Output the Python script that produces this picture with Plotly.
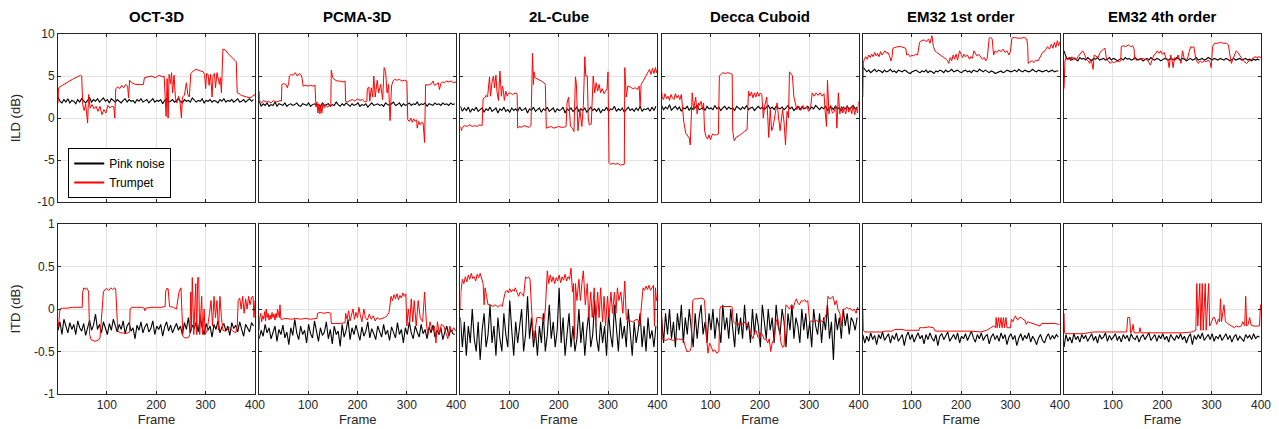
import numpy as np
import plotly.graph_objects as go

titles = ["OCT-3D", "PCMA-3D", "2L-Cube", "Decca Cuboid", "EM32 1st order", "EM32 4th order"]
x_ticks = [100, 200, 300, 400]
ild_ticks = [-10, -5, 0, 5, 10]
itd_ticks = [-1, -0.5, 0, 0.5, 1]

# pink noise, sampled every 4 frames
frames_black = np.arange(1, 401, 4)

ild_pink_oct = [2.5,2.0,1.8,2.2,1.9,2.3,1.8,2.1,2.0,1.7,2.2,1.9,2.3,2.0,1.8,2.1,2.4,1.9,2.2,2.0,
                2.3,1.9,2.1,2.4,2.0,2.2,1.8,2.3,2.1,1.9,2.2,2.0,1.8,2.1,2.3,1.9,2.2,2.0,2.1,1.8,
                2.2,2.0,2.3,1.9,2.1,2.2,1.8,2.0,2.3,1.9,2.1,2.0,2.2,1.7,2.1,2.3,1.9,2.0,2.2,1.9,
                2.1,2.3,2.0,1.8,2.2,2.0,2.1,1.9,2.4,2.2,1.9,2.1,2.0,2.3,1.8,2.1,2.0,2.2,1.9,2.1,
                2.0,1.8,2.2,2.0,2.3,1.9,2.1,2.0,2.2,1.9,2.1,2.3,1.9,2.0,2.2,1.9,2.1,2.3,2.0,2.2]
ild_pink_pcma = [2.0,1.4,1.7,1.5,1.8,1.4,1.6,1.5,1.9,1.4,1.7,1.6,1.5,1.8,1.4,1.6,1.7,1.5,1.6,1.8,
                 1.5,1.4,1.7,1.6,1.5,1.8,1.4,1.6,1.7,1.5,1.6,1.4,1.8,1.5,1.6,1.7,1.4,1.6,1.5,1.9,
                 1.6,1.4,1.7,1.5,1.8,1.6,1.4,1.7,1.5,1.6,1.8,1.4,1.6,1.5,1.7,1.3,1.6,1.8,1.5,1.6,
                 1.7,1.5,1.6,1.4,1.8,1.6,1.5,1.7,1.9,1.5,1.6,1.8,1.4,1.7,1.5,1.6,1.8,1.5,1.7,1.6,
                 1.9,1.5,1.7,1.6,1.8,1.4,1.7,1.6,1.5,1.8,1.6,1.7,1.5,1.8,1.6,1.7,1.5,1.8,1.6,1.7]
ild_pink_2l = [1.4,0.8,1.2,0.9,1.3,0.7,1.1,0.9,1.3,0.8,1.0,1.2,0.7,1.1,0.9,1.3,0.8,1.0,1.2,0.6,
               1.1,0.9,1.3,0.8,1.0,0.7,1.2,0.9,1.1,0.8,1.3,0.9,1.0,1.2,0.6,1.1,0.9,1.3,0.8,1.0,
               1.2,0.7,1.1,0.9,1.3,0.8,1.0,1.2,0.7,1.1,0.9,1.0,1.3,0.6,1.1,0.9,1.2,0.8,1.0,1.3,
               0.8,1.1,0.9,1.2,0.7,1.0,1.3,0.9,1.1,0.8,1.2,0.6,1.0,0.9,1.3,0.8,1.1,1.0,1.4,0.8,
               1.1,0.9,1.2,0.7,1.0,1.3,0.9,1.1,0.8,1.2,0.9,1.4,0.8,1.1,1.0,1.2,0.8,1.3,0.9,1.4]
ild_pink_decca = [1.5,1.0,1.3,1.1,1.6,0.9,1.2,1.4,1.0,1.3,0.8,1.2,1.1,1.4,0.9,1.3,1.0,1.2,1.5,1.0,
                  1.1,1.3,0.9,1.4,1.1,1.2,1.0,1.5,1.1,1.3,0.9,1.2,1.4,1.0,1.3,1.1,1.2,0.9,1.4,1.2,
                  1.0,1.3,1.1,1.5,1.0,1.2,1.3,0.9,1.2,1.4,1.1,1.3,1.0,1.2,1.5,1.1,1.3,1.0,1.4,1.2,
                  1.1,1.3,1.0,1.2,1.5,1.1,1.3,0.9,1.2,1.4,1.0,1.3,1.1,1.2,1.4,1.0,1.3,1.1,1.5,1.2,
                  1.0,1.3,1.1,1.4,0.9,1.2,1.3,1.0,1.4,1.1,1.2,0.9,1.3,1.1,1.4,1.0,1.2,1.5,1.1,1.3]
ild_pink_em1 = [6.1,5.8,5.5,5.7,5.4,5.6,5.8,5.5,5.7,5.6,5.4,5.7,5.5,5.6,5.8,5.5,5.6,5.4,5.7,5.6,
                5.5,5.7,5.6,5.4,5.3,5.5,5.6,5.7,5.5,5.4,5.6,5.5,5.7,5.4,5.6,5.5,5.3,5.6,5.5,5.7,
                5.6,5.4,5.7,5.5,5.6,5.8,5.5,5.6,5.7,5.5,5.4,5.6,5.7,5.5,5.6,5.4,5.7,5.6,5.5,5.8,
                5.6,5.5,5.7,5.5,5.4,5.6,5.5,5.3,5.4,5.5,5.6,5.4,5.5,5.7,5.6,5.5,5.6,5.7,5.5,5.8,
                5.6,5.5,5.7,5.6,5.5,5.6,5.8,5.6,5.5,5.7,5.6,5.5,5.6,5.7,5.5,5.6,5.7,5.5,5.6,5.6]
ild_pink_em4 = [8.0,7.3,7.0,7.2,6.9,7.1,7.0,6.8,7.2,7.0,7.1,6.9,7.2,7.0,6.8,7.1,7.0,7.2,6.9,7.0,
                7.1,6.9,7.0,7.2,6.9,7.1,7.0,6.8,7.0,7.1,6.9,7.2,7.0,7.1,6.9,7.0,7.2,6.9,7.0,7.1,
                6.8,7.0,7.1,6.9,7.2,7.0,6.9,7.1,7.0,6.8,7.0,7.1,7.0,6.9,7.1,7.0,6.9,7.2,7.0,6.9,
                7.1,7.0,6.8,7.0,7.1,6.9,7.0,7.2,6.9,7.0,7.1,6.9,7.0,7.2,7.0,6.9,7.1,7.0,6.9,7.1,
                7.0,6.9,7.1,7.0,6.8,7.0,7.1,6.9,7.0,7.1,6.9,7.0,7.1,6.9,7.0,6.8,7.0,6.9,7.0,6.9]

itd_pink_oct = [-0.25,-0.15,-0.30,-0.12,-0.20,-0.28,-0.16,-0.24,-0.18,-0.30,-0.14,-0.22,-0.26,-0.17,-0.31,-0.20,-0.13,-0.25,-0.19,-0.06,
                -0.24,-0.18,-0.28,-0.15,-0.22,-0.30,-0.17,-0.25,-0.12,-0.21,-0.27,-0.18,-0.24,-0.14,-0.29,-0.20,-0.16,-0.26,-0.22,-0.35,
                -0.19,-0.25,-0.15,-0.28,-0.21,-0.17,-0.27,-0.23,-0.14,-0.30,-0.20,-0.24,-0.18,-0.32,-0.21,-0.15,-0.26,-0.19,-0.28,-0.22,
                -0.17,-0.25,-0.20,-0.30,-0.16,-0.24,-0.10,-0.28,-0.19,-0.23,-0.15,-0.27,-0.08,-0.22,-0.30,-0.17,-0.25,-0.20,-0.33,-0.18,
                -0.24,-0.14,-0.28,-0.21,-0.17,-0.26,-0.20,-0.31,-0.16,-0.23,-0.19,-0.27,-0.15,-0.24,-0.32,-0.18,-0.22,-0.27,-0.16,-0.20]
itd_pink_pcma = [-0.35,-0.25,-0.32,-0.18,-0.28,-0.22,-0.35,-0.26,-0.20,-0.38,-0.24,-0.30,-0.19,-0.34,-0.27,-0.42,-0.22,-0.31,-0.12,-0.28,
                 -0.36,-0.20,-0.30,-0.25,-0.40,-0.18,-0.29,-0.34,-0.14,-0.26,-0.38,-0.22,-0.31,-0.27,-0.15,-0.35,-0.24,-0.41,-0.20,-0.30,
                 -0.26,-0.44,-0.18,-0.33,-0.25,-0.12,-0.36,-0.22,-0.30,-0.19,-0.28,-0.37,-0.21,-0.32,-0.26,-0.15,-0.34,-0.23,-0.29,-0.36,
                 -0.20,-0.27,-0.33,-0.18,-0.30,-0.25,-0.37,-0.21,-0.28,-0.34,-0.16,-0.30,-0.24,-0.40,-0.22,-0.30,-0.15,-0.28,-0.35,-0.20,
                 -0.27,-0.33,-0.18,-0.29,-0.24,-0.35,-0.21,-0.28,-0.19,-0.33,-0.25,-0.30,-0.22,-0.36,-0.27,-0.20,-0.32,-0.24,-0.29,-0.30]
itd_pink_2l = [-0.10,-0.45,-0.15,-0.55,-0.20,-0.40,0.00,-0.35,-0.50,-0.15,-0.60,-0.25,-0.05,-0.45,-0.30,0.05,-0.40,-0.20,-0.55,-0.10,
               -0.35,-0.50,-0.05,-0.30,-0.45,0.10,-0.25,-0.55,-0.15,-0.40,-0.20,0.00,-0.50,-0.30,0.15,-0.35,-0.10,-0.45,-0.25,-0.55,
               -0.20,-0.40,-0.05,-0.50,-0.30,0.05,-0.35,-0.15,-0.45,-0.25,0.25,-0.40,-0.10,-0.55,-0.30,-0.05,-0.45,-0.20,-0.50,-0.35,
               0.00,-0.40,-0.15,-0.55,-0.25,-0.05,-0.45,-0.30,0.10,-0.35,-0.50,-0.15,-0.40,-0.20,-0.55,-0.05,-0.30,-0.45,0.05,-0.25,
               -0.50,-0.10,-0.35,-0.20,-0.45,0.00,-0.30,-0.55,-0.15,-0.40,-0.25,-0.05,-0.45,-0.20,-0.50,-0.10,-0.35,-0.25,-0.45,-0.20]
itd_pink_decca = [-0.10,-0.40,-0.05,-0.30,0.00,-0.35,-0.15,-0.45,-0.05,-0.25,0.05,-0.40,-0.10,-0.30,0.00,-0.20,-0.45,-0.05,-0.35,-0.10,
                  0.05,-0.30,-0.15,-0.40,-0.05,-0.25,0.00,-0.35,-0.10,-0.20,-0.40,0.05,-0.25,-0.10,-0.35,0.00,-0.20,-0.45,-0.05,-0.30,
                  -0.10,-0.35,0.05,-0.25,-0.15,-0.40,0.00,-0.30,-0.05,-0.20,-0.45,0.05,-0.15,-0.35,0.00,-0.25,-0.10,-0.40,0.05,-0.20,
                  -0.30,0.00,-0.15,-0.45,-0.05,-0.25,0.05,-0.35,-0.10,-0.20,-0.40,0.00,-0.25,-0.05,-0.35,-0.15,-0.45,0.00,-0.20,-0.30,
                  -0.05,-0.40,-0.10,-0.25,0.05,-0.35,-0.15,-0.60,-0.05,-0.25,-0.10,-0.35,0.00,-0.20,-0.05,-0.30,-0.10,-0.15,-0.25,-0.10]
itd_pink_em1 = [-0.30,-0.40,-0.32,-0.38,-0.28,-0.36,-0.31,-0.42,-0.30,-0.35,-0.27,-0.37,-0.33,-0.29,-0.40,-0.31,-0.36,-0.28,-0.38,-0.33,
                -0.30,-0.43,-0.32,-0.27,-0.36,-0.30,-0.39,-0.33,-0.28,-0.35,-0.31,-0.41,-0.30,-0.36,-0.28,-0.34,-0.38,-0.30,-0.43,-0.32,
                -0.29,-0.36,-0.31,-0.27,-0.38,-0.33,-0.30,-0.36,-0.28,-0.40,-0.32,-0.35,-0.29,-0.37,-0.31,-0.26,-0.34,-0.39,-0.30,-0.35,
                -0.28,-0.37,-0.32,-0.30,-0.41,-0.33,-0.29,-0.36,-0.31,-0.38,-0.28,-0.35,-0.30,-0.42,-0.33,-0.29,-0.36,-0.31,-0.43,-0.34,
                -0.29,-0.37,-0.31,-0.35,-0.28,-0.39,-0.32,-0.36,-0.42,-0.34,-0.30,-0.37,-0.40,-0.33,-0.29,-0.36,-0.31,-0.35,-0.30,-0.33]
itd_pink_em4 = [-0.45,-0.30,-0.38,-0.33,-0.40,-0.29,-0.36,-0.32,-0.39,-0.30,-0.35,-0.31,-0.38,-0.34,-0.29,-0.37,-0.32,-0.40,-0.30,-0.35,
                -0.33,-0.28,-0.38,-0.31,-0.36,-0.33,-0.29,-0.37,-0.32,-0.39,-0.30,-0.35,-0.31,-0.38,-0.29,-0.34,-0.36,-0.31,-0.39,-0.33,
                -0.30,-0.36,-0.32,-0.28,-0.37,-0.33,-0.30,-0.38,-0.31,-0.35,-0.29,-0.36,-0.32,-0.39,-0.30,-0.34,-0.37,-0.31,-0.35,-0.29,
                -0.36,-0.32,-0.40,-0.33,-0.29,-0.42,-0.31,-0.36,-0.30,-0.35,-0.28,-0.37,-0.33,-0.30,-0.36,-0.29,-0.38,-0.32,-0.35,-0.30,
                -0.37,-0.33,-0.29,-0.36,-0.31,-0.39,-0.33,-0.30,-0.37,-0.32,-0.35,-0.38,-0.30,-0.34,-0.31,-0.36,-0.29,-0.35,-0.32,-0.33]

# trumpet: frame / value pairs read at the step changes
ild_tr_oct_f = [1,2,10,20,30,40,47,49,51,54,57,61,63,66,70,74,78,82,86,90,94,98,102,106,110,114,116,118,122,126,130,134,138,142,144,146,150,158,166,174,176,182,190,198,206,212,216,218,220,222,224,226,229,231,233,236,239,242,245,248,251,253,257,261,264,267,270,275,280,285,290,295,298,300,302,305,307,310,313,315,318,320,323,326,328,330,332,335,340,345,350,355,360,362,364,368,372,378,384,390,395,400]
ild_tr_oct_v = [1.8,3.6,3.9,4.3,4.6,4.9,5.1,5.0,1.6,0.9,1.7,-0.6,2.8,1.2,1.6,1.1,1.4,0.8,1.4,0.4,1.0,0.6,1.5,1.2,1.4,1.3,0.0,3.5,3.7,3.5,3.9,3.6,4.0,3.8,2.4,4.5,4.2,4.0,4.0,4.0,4.8,4.9,5.0,4.8,5.1,4.9,5.0,2.6,0.2,4.7,0.0,5.2,4.1,5.4,3.0,5.1,2.3,1.8,2.6,2.0,0.0,2.5,2.7,4.2,2.8,2.5,5.3,5.6,5.8,5.7,5.6,5.5,5.2,3.5,5.3,5.2,3.9,5.2,2.5,5.0,5.3,3.6,5.4,4.6,4.0,4.8,3.0,8.2,8.1,7.7,7.4,7.1,6.8,6.7,3.0,2.9,2.7,2.6,2.5,2.4,2.6,2.8]

ild_tr_pcma_f = [1,2,6,10,15,20,25,30,35,40,45,46,47,50,55,58,61,62,66,70,74,78,82,86,88,90,95,100,105,110,114,116,118,120,122,124,126,128,130,133,136,140,144,146,147,150,155,160,165,170,175,176,180,185,190,195,200,205,210,215,219,220,223,225,228,231,233,236,238,240,243,247,251,254,257,260,263,266,269,272,275,280,285,290,295,300,302,305,308,311,314,317,320,321,324,327,330,333,336,338,342,346,350,353,356,360,364,366,369,372,376,380,385,390,395,400]
ild_tr_pcma_v = [3.2,2.0,1.8,2.1,1.9,2.0,1.8,2.1,1.9,2.0,2.1,2.0,4.0,4.1,4.0,3.6,4.2,5.0,5.2,5.1,5.4,5.0,5.3,5.1,4.7,3.8,3.9,3.8,3.9,3.8,3.9,1.3,1.9,0.6,1.7,0.5,1.5,0.6,1.8,1.2,1.5,1.3,1.6,1.4,5.7,4.8,4.5,4.4,4.4,4.3,4.4,2.0,1.9,2.1,2.2,2.0,2.3,2.1,2.2,1.9,2.0,3.5,3.7,2.0,3.6,2.5,5.0,2.5,3.8,4.5,3.0,4.0,2.2,6.0,5.5,3.0,4.0,-0.3,3.8,4.4,4.6,4.5,4.6,4.4,4.5,4.4,-0.2,-0.4,0.0,-0.5,-0.1,-0.4,-0.2,-1.2,-0.4,-0.8,-0.5,-0.6,-2.9,4.0,3.9,4.0,4.1,4.4,3.9,4.0,4.2,3.4,4.1,4.3,4.2,4.4,4.3,4.4,4.2,4.3]

ild_tr_2l_f = [1,3,5,10,15,20,25,30,35,40,45,47,50,53,56,58,60,62,65,68,70,73,75,78,81,84,86,88,90,93,96,98,102,106,110,114,116,117,120,125,130,135,140,144,145,147,149,150,152,156,160,165,170,173,175,180,185,190,195,200,205,210,215,217,220,222,224,228,231,234,236,239,243,247,250,253,255,258,260,262,266,270,273,276,279,282,285,288,292,295,298,300,302,305,310,315,320,325,330,333,334,337,340,345,350,355,360,363,365,367,372,376,380,384,387,390,393,396,398,400]
ild_tr_2l_v = [-1.0,-1.5,-1.1,-0.9,-1.0,-0.8,-1.0,-0.9,-1.0,-0.8,-0.9,2.3,2.4,2.7,2.5,3.5,4.9,2.6,4.3,5.0,3.6,5.1,3.2,2.1,5.6,2.6,3.8,3.3,2.1,3.2,2.6,2.9,3.0,2.8,2.9,3.0,2.8,-1.2,-1.0,-1.1,-0.9,-1.0,-1.1,-0.9,3.0,7.7,4.0,5.5,4.8,4.7,4.6,4.4,4.2,4.0,-1.2,-1.1,-1.0,-1.2,-1.1,-1.0,-1.1,-1.1,-1.0,1.8,2.5,1.0,-1.0,-1.2,-1.6,4.9,4.0,-1.5,1.0,-1.0,1.5,7.3,5.0,5.0,0.0,-0.8,-0.7,5.0,3.0,4.2,3.2,4.0,3.0,3.5,2.9,3.2,3.5,5.5,-5.3,-5.5,-5.4,-5.5,-5.4,-5.6,-5.5,-5.5,6.0,2.5,3.8,3.7,3.5,3.6,3.4,3.8,1.3,4.0,4.5,5.0,5.4,5.8,5.2,5.9,5.3,6.0,5.4,5.8]

ild_tr_decca_f = [1,2,5,8,11,14,17,20,23,26,29,32,35,38,41,44,46,50,53,55,57,59,61,63,66,70,73,76,78,81,84,86,88,91,94,97,100,104,108,112,116,118,121,125,130,135,140,144,145,148,152,156,160,165,170,174,177,180,183,186,189,192,195,198,201,204,207,210,214,218,221,224,227,231,235,238,241,246,249,252,255,258,260,264,266,269,272,275,279,283,287,291,295,299,303,306,310,314,318,322,326,330,332,335,337,340,343,347,351,354,356,359,362,365,368,371,374,377,380,383,386,389,392,395,398,400]
ild_tr_decca_v = [3.2,2.5,2.2,2.9,2.3,2.6,2.1,2.8,2.4,2.2,2.9,2.4,2.7,2.2,2.8,0.5,-0.5,-1.8,-2.0,-2.2,-2.4,-3.2,1.5,3.0,1.0,2.5,0.5,1.8,1.5,2.0,1.0,1.8,-1.5,-2.2,-2.5,-2.0,-2.6,-1.9,-2.0,-2.0,-1.9,5.0,5.2,5.4,5.3,5.4,5.3,5.2,-1.5,-2.7,-2.3,-2.1,-2.0,-1.8,-1.5,-1.4,3.2,2.6,3.1,2.4,3.0,2.5,3.1,2.6,3.0,2.8,0.0,1.5,2.5,-2.3,1.0,-1.5,-1.0,0.5,1.8,0.0,-1.5,1.0,-0.5,-3.2,0.8,0.0,5.5,5.2,5.0,2.5,1.5,1.0,1.4,0.9,1.5,1.1,1.3,0.8,1.4,3.0,2.6,3.0,2.7,3.0,2.6,2.9,1.0,-1.0,4.5,0.5,1.5,0.6,0.8,1.5,-1.2,3.0,0.5,1.4,0.6,1.2,0.5,1.5,0.7,1.3,0.5,1.5,0.4,1.2,0.6,2.0]

ild_tr_em1_f = [1,2,4,7,10,13,16,19,22,25,28,31,34,37,40,43,46,49,52,55,58,60,62,66,72,78,84,88,90,93,97,100,104,108,112,116,120,125,130,134,137,141,144,147,151,155,160,165,170,173,175,178,181,184,187,190,193,197,200,203,206,209,213,217,220,223,226,229,232,236,240,243,247,250,253,257,260,263,266,269,273,277,281,285,289,293,297,300,303,308,315,322,328,333,335,336,340,344,348,352,356,360,365,370,375,379,383,386,389,392,395,398,400]
ild_tr_em1_v = [2.5,6.5,7.0,7.3,7.0,7.5,7.2,7.6,7.3,7.8,7.4,7.7,7.3,7.9,7.5,7.8,8.0,7.7,7.8,7.4,6.8,7.2,8.3,8.4,8.5,8.5,8.4,8.3,7.5,7.6,7.3,7.5,7.4,7.6,7.5,9.0,9.2,9.3,9.1,9.4,8.9,9.8,8.5,8.0,7.8,7.6,7.4,7.2,7.0,6.8,6.5,7.2,6.8,7.5,7.0,7.6,6.9,8.0,7.6,7.2,7.6,7.3,7.5,7.0,7.3,7.1,8.0,7.6,7.4,7.6,7.3,7.0,7.2,6.8,7.1,9.5,9.6,9.4,7.5,8.0,7.8,8.1,7.9,8.2,7.8,8.0,7.5,7.9,9.5,9.6,9.5,9.5,9.6,9.4,8.5,6.5,6.7,6.8,6.6,6.9,6.8,7.2,7.8,8.0,8.5,8.2,8.8,8.3,9.0,8.4,9.2,8.6,9.1]

ild_tr_em4_f = [1,2,3,5,8,11,14,17,20,23,26,29,32,35,39,42,46,50,53,56,60,62,66,70,74,77,81,84,87,91,94,98,103,108,113,116,117,121,126,131,136,140,143,144,148,152,156,160,165,170,173,176,180,183,186,190,194,197,200,204,207,211,214,217,220,222,225,229,232,235,238,241,244,247,251,254,258,261,264,268,273,277,281,285,289,293,297,299,302,306,312,318,324,330,334,337,340,343,347,350,353,357,360,364,368,371,376,381,385,388,392,396,400]
ild_tr_em4_v = [3.5,6.0,6.8,7.2,6.9,7.2,6.8,7.3,7.0,7.2,6.9,7.3,7.5,7.8,8.0,7.7,7.0,6.8,6.5,7.0,5.8,7.5,7.3,7.2,7.8,8.0,8.2,8.3,7.0,6.8,6.5,6.7,6.6,6.8,6.7,6.8,8.5,8.6,8.5,8.7,8.5,8.6,8.2,7.0,7.1,6.9,7.0,7.1,7.0,6.9,6.6,6.3,7.0,7.5,7.6,8.0,7.7,8.0,7.6,7.8,7.2,7.0,6.0,7.5,6.8,6.0,7.2,7.0,7.5,7.0,6.5,8.0,7.2,7.0,7.0,7.8,8.5,8.4,8.5,7.0,6.5,6.8,6.6,6.8,6.7,6.9,6.6,6.0,8.5,8.9,8.9,9.0,8.9,8.9,8.7,7.5,6.5,7.0,7.5,8.0,7.8,7.5,7.2,6.8,6.6,6.5,6.8,7.0,7.2,7.3,7.2,7.3,7.2]

itd_tr_oct_f = [1,2,5,10,20,30,40,50,51,53,56,59,62,63,65,68,72,76,80,84,86,90,93,96,100,104,108,112,116,118,120,122,126,132,138,144,146,147,150,160,170,176,177,179,190,200,210,218,219,221,224,227,235,241,246,250,252,254,258,262,266,268,270,271,273,276,280,282,284,286,288,292,294,297,299,303,309,311,314,317,320,323,326,329,332,335,340,345,349,355,361,364,366,369,372,375,378,381,384,387,390,393,396,398,400]
itd_tr_oct_v = [-0.15,-0.20,0.00,0.01,0.01,0.02,0.02,0.02,0.20,0.25,0.23,0.25,0.22,0.20,-0.30,-0.36,-0.37,-0.38,-0.37,-0.36,-0.34,0.00,0.20,0.23,0.24,0.22,0.25,0.23,0.25,0.22,0.00,-0.25,-0.28,-0.28,-0.29,-0.28,-0.27,0.00,0.02,0.02,0.02,0.01,-0.02,0.01,0.02,0.02,0.02,0.03,0.20,0.24,0.24,0.03,0.02,0.00,0.20,0.25,0.00,-0.32,-0.34,-0.34,-0.33,-0.30,0.20,-0.25,0.37,-0.30,0.30,-0.30,0.37,0.37,-0.30,0.15,-0.30,0.00,-0.30,-0.25,0.00,0.10,-0.20,0.15,-0.10,0.10,-0.25,0.15,-0.10,-0.25,-0.26,-0.24,-0.22,-0.26,-0.28,-0.20,0.10,0.13,0.00,0.15,-0.05,0.12,0.00,0.15,0.05,0.14,0.15,-0.10,0.10]

itd_tr_pcma_f = [1,2,4,6,8,10,12,14,15,17,19,21,23,25,27,29,31,33,35,37,38,40,42,43,45,47,55,65,75,85,95,105,112,118,119,125,132,140,146,147,155,165,175,176,179,182,185,188,191,194,197,200,203,206,209,213,216,220,224,228,232,236,240,245,250,255,260,264,268,271,274,277,280,283,286,289,292,295,298,300,303,306,309,312,315,319,323,327,332,336,340,343,347,351,356,359,362,366,370,375,379,383,387,391,395,398,400]
itd_tr_pcma_v = [-0.25,-0.10,-0.05,-0.15,-0.08,-0.12,-0.03,-0.14,0.00,-0.10,-0.05,-0.13,-0.07,-0.12,-0.04,-0.10,-0.06,-0.13,-0.05,-0.10,0.00,-0.08,-0.10,0.05,-0.12,-0.12,-0.11,-0.12,-0.11,-0.12,-0.11,-0.12,-0.11,-0.11,-0.05,-0.04,-0.05,-0.04,-0.05,-0.17,-0.17,-0.17,-0.16,-0.05,-0.12,-0.02,-0.14,-0.06,0.00,-0.12,-0.04,-0.10,0.02,-0.08,-0.15,0.00,-0.10,-0.13,-0.06,-0.12,-0.08,-0.14,-0.10,-0.12,-0.11,-0.10,-0.08,-0.04,0.15,0.10,0.17,0.12,0.18,0.11,0.16,0.13,0.19,0.15,0.18,-0.20,0.00,-0.15,0.12,-0.15,0.10,-0.20,0.10,-0.10,-0.15,0.20,-0.20,-0.30,-0.15,-0.25,-0.20,-0.40,-0.15,-0.30,-0.18,-0.20,-0.28,-0.35,-0.20,-0.27,-0.22,-0.25,-0.25]

itd_tr_2l_f = [1,2,5,8,11,14,17,20,23,26,29,32,35,38,41,44,47,49,51,54,57,62,67,72,77,82,86,88,92,95,98,101,104,107,110,112,116,119,122,126,129,133,136,139,142,145,147,150,153,156,162,167,170,173,177,180,183,186,189,192,195,198,201,204,207,210,213,216,219,222,225,228,230,232,234,237,241,244,247,250,254,258,261,265,268,272,275,279,282,285,289,292,295,299,302,306,309,313,316,319,322,326,330,332,334,337,340,345,350,355,360,364,367,371,374,377,380,383,386,389,392,394,396,398,400]
itd_tr_2l_v = [0.00,0.20,0.35,0.30,0.38,0.32,0.40,0.35,0.42,0.36,0.38,0.33,0.41,0.37,0.42,0.36,0.30,0.05,0.25,0.15,0.05,0.05,0.03,0.05,0.02,0.05,0.03,0.10,0.20,0.22,0.19,0.24,0.20,0.23,0.21,0.25,0.20,0.15,0.20,0.18,0.15,0.38,0.36,0.38,0.35,0.00,-0.20,-0.35,-0.20,-0.10,-0.10,-0.11,-0.15,0.00,0.45,0.30,0.40,0.32,0.38,0.30,0.37,0.33,0.40,0.31,0.38,0.34,0.41,0.33,0.38,0.35,0.48,0.20,0.30,-0.35,0.30,0.10,0.35,0.10,0.30,0.45,0.05,0.30,-0.10,0.20,-0.10,0.25,-0.20,0.20,-0.10,0.25,-0.15,0.15,-0.20,0.15,-0.10,0.20,-0.05,0.20,-0.05,0.25,0.10,0.20,-0.05,0.25,0.33,-0.10,-0.15,-0.14,-0.15,-0.13,-0.12,-0.20,0.00,0.25,0.22,0.27,0.23,0.28,0.22,0.26,0.28,-0.20,0.25,0.10,0.15]

itd_tr_decca_f = [1,2,5,10,15,20,25,30,35,40,42,46,49,52,56,59,61,64,68,74,80,86,88,91,93,95,98,102,105,109,113,117,119,121,128,135,142,144,146,150,154,158,162,166,170,174,178,182,186,189,192,196,199,202,205,209,212,216,219,222,225,229,233,236,240,243,246,249,252,253,257,260,264,267,271,274,277,280,284,287,291,294,297,301,305,310,314,318,321,325,328,332,335,338,341,345,348,352,355,358,362,365,369,372,376,380,383,387,391,395,398,400]
itd_tr_decca_v = [0.00,-0.35,-0.36,-0.37,-0.35,-0.36,-0.37,-0.36,-0.35,-0.36,-0.35,-0.38,-0.45,-0.50,-0.50,-0.49,-0.45,0.10,0.12,0.12,0.13,0.12,0.10,-0.30,-0.40,-0.52,-0.40,-0.45,-0.50,-0.48,-0.52,-0.50,0.00,0.03,0.03,0.03,0.03,0.02,-0.15,-0.17,-0.15,-0.19,-0.16,-0.18,-0.15,-0.19,-0.20,-0.30,-0.35,-0.28,-0.25,-0.33,-0.35,-0.28,-0.30,-0.36,-0.35,-0.40,-0.35,-0.50,-0.40,-0.35,-0.15,-0.10,-0.25,-0.40,-0.45,-0.44,0.00,0.05,0.02,0.00,0.05,0.00,0.08,0.12,0.07,0.05,0.10,0.09,0.11,0.08,0.10,-0.15,-0.14,-0.15,-0.13,-0.15,-0.15,-0.14,-0.15,-0.10,-0.05,0.15,0.12,0.13,0.15,0.05,0.10,0.00,-0.05,-0.20,0.00,0.00,0.02,0.00,0.01,-0.02,0.00,-0.05,0.02,0.00]

itd_tr_em1_f = [1,2,5,15,25,40,46,60,66,80,87,100,115,116,125,135,144,148,160,180,200,220,240,252,260,266,270,271,273,276,278,281,283,286,288,291,293,296,300,302,305,308,310,313,315,318,322,325,329,332,335,340,345,350,355,360,363,366,375,383,390,397,400]
itd_tr_em1_v = [0.00,-0.25,-0.27,-0.27,-0.27,-0.27,-0.26,-0.26,-0.24,-0.24,-0.25,-0.25,-0.25,-0.22,-0.22,-0.21,-0.22,-0.26,-0.26,-0.26,-0.26,-0.26,-0.27,-0.25,-0.22,-0.20,-0.22,-0.10,-0.22,-0.10,-0.22,-0.10,-0.22,-0.10,-0.22,-0.10,-0.22,-0.22,-0.22,-0.12,-0.15,-0.10,-0.08,-0.12,-0.13,-0.10,-0.10,-0.12,-0.13,-0.18,-0.15,-0.16,-0.17,-0.18,-0.19,-0.20,-0.17,-0.17,-0.17,-0.17,-0.17,-0.18,-0.18]

itd_tr_em4_f = [1,2,5,20,40,60,80,100,120,128,130,134,136,139,141,143,150,153,155,157,180,200,220,240,260,266,268,270,272,276,278,281,283,287,289,294,296,300,303,306,310,314,316,318,320,325,328,332,335,340,346,350,355,360,363,367,369,371,374,377,380,385,391,397,399,400]
itd_tr_em4_v = [-0.05,-0.28,-0.29,-0.29,-0.29,-0.27,-0.27,-0.27,-0.27,-0.27,-0.10,-0.10,-0.28,-0.25,-0.18,-0.28,-0.28,-0.28,-0.22,-0.28,-0.28,-0.28,-0.28,-0.28,-0.27,-0.25,-0.25,0.30,-0.20,0.30,-0.25,0.30,-0.25,0.30,-0.25,0.30,-0.20,-0.15,-0.10,-0.10,-0.18,-0.12,-0.15,0.12,-0.15,0.05,-0.15,-0.17,-0.18,-0.20,-0.22,-0.20,-0.21,-0.20,-0.15,-0.20,0.15,-0.20,-0.18,-0.10,-0.19,-0.20,-0.20,-0.20,0.05,0.05]

pink = [ild_pink_oct, ild_pink_pcma, ild_pink_2l, ild_pink_decca, ild_pink_em1, ild_pink_em4,
        itd_pink_oct, itd_pink_pcma, itd_pink_2l, itd_pink_decca, itd_pink_em1, itd_pink_em4]
trumpet = [(ild_tr_oct_f, ild_tr_oct_v), (ild_tr_pcma_f, ild_tr_pcma_v), (ild_tr_2l_f, ild_tr_2l_v),
           (ild_tr_decca_f, ild_tr_decca_v), (ild_tr_em1_f, ild_tr_em1_v), (ild_tr_em4_f, ild_tr_em4_v),
           (itd_tr_oct_f, itd_tr_oct_v), (itd_tr_pcma_f, itd_tr_pcma_v), (itd_tr_2l_f, itd_tr_2l_v),
           (itd_tr_decca_f, itd_tr_decca_v), (itd_tr_em1_f, itd_tr_em1_v), (itd_tr_em4_f, itd_tr_em4_v)]

FONT = "Arial, Liberation Sans, Helvetica, sans-serif"
AX = "#262626"
W = 1203.0
pw = 197.0 / W
gap = 4.2 / W

fig = go.Figure()
for k in range(12):
    r, c = divmod(k, 6)
    n = "" if k == 0 else str(k + 1)
    fig.add_trace(go.Scatter(x=frames_black, y=pink[k], mode="lines", name="Pink noise",
                             line=dict(color="black", width=1.1), showlegend=False,
                             xaxis="x" + n, yaxis="y" + n))
    fig.add_trace(go.Scatter(x=trumpet[k][0], y=trumpet[k][1], mode="lines", name="Trumpet",
                             line=dict(color="red", width=1), showlegend=False,
                             xaxis="x" + n, yaxis="y" + n))
    x0 = c * (pw + gap)
    dom_y = [0.533, 1.0] if r == 0 else [0.0, 0.472]
    fig.layout["xaxis" + n] = dict(
        domain=[x0, x0 + pw], range=[1, 400], tickvals=x_ticks, anchor="y" + n,
        automargin=False,
        showticklabels=(r == 1), title=dict(text="Frame" if r == 1 else "", standoff=0,
                                            font=dict(size=13, color=AX)),
        showgrid=True, gridcolor="#e3e3e3", gridwidth=1, zeroline=False,
        showline=True, linecolor=AX, linewidth=1, mirror="ticks",
        ticks="inside", ticklen=3, tickcolor=AX, tickfont=dict(size=12, color=AX))
    fig.layout["yaxis" + n] = dict(
        domain=dom_y, anchor="x" + n, automargin=False,
        range=[-10, 10] if r == 0 else [-1, 1],
        tickvals=ild_ticks if r == 0 else itd_ticks,
        ticktext=[str(v) for v in (ild_ticks if r == 0 else itd_ticks)],
        showticklabels=(c == 0),
        title=dict(text=("ILD (dB)" if r == 0 else "ITD (dB)") if c == 0 else "",
                   standoff=14, font=dict(size=13, color=AX)),
        showgrid=True, gridcolor="#e3e3e3", gridwidth=1, zeroline=False,
        showline=True, linecolor=AX, linewidth=1, mirror="ticks",
        ticks="inside", ticklen=3, tickcolor=AX, tickfont=dict(size=12, color=AX))
    if r == 0:
        fig.add_annotation(text="<b>" + titles[c] + "</b>", xref="paper", yref="paper",
                           x=x0 + pw / 2, y=1.0, xanchor="center", yanchor="bottom", yshift=7,
                           showarrow=False, font=dict(size=15, color="black", family=FONT))

# legend-only entries (thicker sample lines like the original legend)
fig.add_trace(go.Scatter(x=[None], y=[None], mode="lines", name="Pink noise",
                         line=dict(color="black", width=2)))
fig.add_trace(go.Scatter(x=[None], y=[None], mode="lines", name="Trumpet",
                         line=dict(color="red", width=2)))

# the page body adds an 8px offset, so the figure is drawn 8px smaller
fig.update_layout(
    width=1271, height=421,
    margin=dict(l=50, r=18, t=26, b=35),
    paper_bgcolor="white", plot_bgcolor="white",
    font=dict(family=FONT, color=AX, size=12),
    showlegend=True,
    legend=dict(x=0.0085, y=0.683, xanchor="left", yanchor="top",
                bgcolor="white", bordercolor="black", borderwidth=1,
                font=dict(size=12, color="black"), tracegroupgap=0, itemwidth=30),
)

fig.write_html("out.html")
